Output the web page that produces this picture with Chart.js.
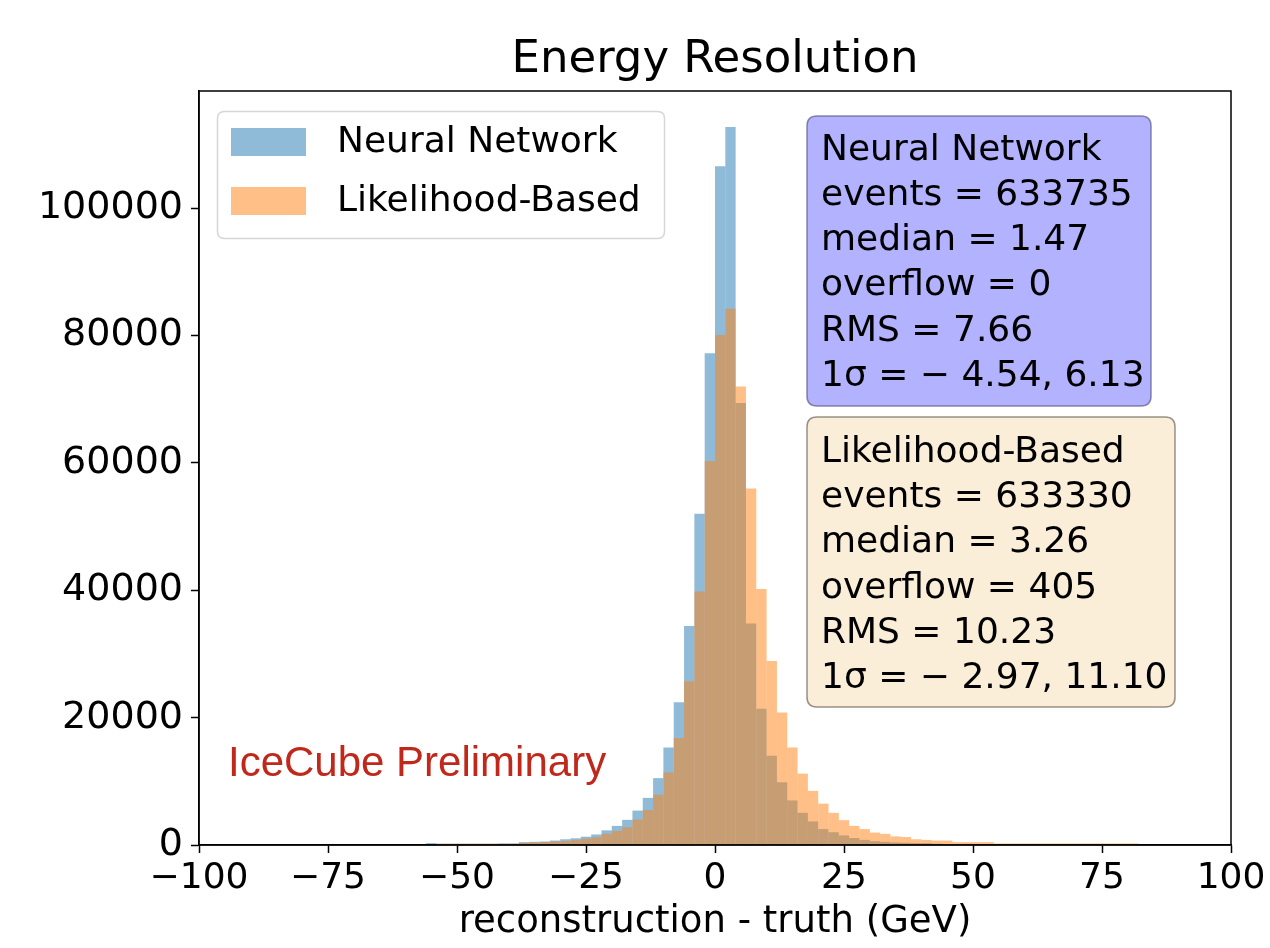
<!DOCTYPE html>
<html><head><meta charset="utf-8">
<script src="https://cdn.jsdelivr.net/npm/chart.js@4.4.1/dist/chart.umd.min.js"></script>
<style>html,body{margin:0;padding:0;background:#fff;}#wrap{width:1270px;height:948px;position:relative;}</style>
</head><body><div id="wrap"><canvas id="c"></canvas></div>
<script>
// Bin centres (GeV), bin width 2 GeV
const binCenters = [-55,-53,-51,-49,-47,-45,-43,-41,-39,-37,-35,-33,-31,-29,-27,-25,-23,-21,-19,-17,-15,-13,-11,-9,-7,-5,-3,-1,1,3,5,7,9,11,13,15,17,19,21,23,25,27,29,31,33,35,37,39,41,43,45,47,49,51,53,55,57,59,61,63,65,67,69,71,73,75,77,79,81];
const neuralNetwork = [300,200,200,200,200,200,200,250,250,450,500,550,700,900,1050,1300,1650,2300,3000,3950,5400,7400,10500,15300,22400,34400,52000,77200,106600,112750,69400,34800,21400,14000,9850,7000,5050,3700,2500,2000,1500,1100,800,600,500,400,350,300,300,200,150,150,100,0,0,0,0,0,0,0,0,0,0,0,0,0,0,0,0];
const likelihoodBased = [0,200,200,200,200,200,200,200,200,350,400,450,550,600,800,1000,1200,1750,2200,2800,4000,5500,7900,11400,16800,25700,39800,60300,80100,84200,72000,56000,40200,28900,20800,15300,11200,8500,6500,5050,3900,3000,2500,1950,1750,1350,1250,900,800,700,700,450,450,450,450,250,250,250,250,250,250,250,250,250,250,250,250,250,250];
const seriesLabels = ['Neural Network','Likelihood-Based'];
const xTickValues = [-100,-75,-50,-25,0,25,50,75,100];
const yTickValues = [0,20000,40000,60000,80000,100000];
const nnStats = ['Neural Network','events = 633735','median = 1.47','overflow = 0','RMS = 7.66','1σ = − 4.54, 6.13'];
const lbStats = ['Likelihood-Based','events = 633330','median = 3.26','overflow = 405','RMS = 10.23','1σ = − 2.97, 11.10'];
const watermark = 'IceCube Preliminary';

const FONT = 'DejaVu Sans';
Chart.defaults.font.family = FONT;
Chart.defaults.color = '#000';

const colors = ['rgba(31,119,180,0.5)','rgba(255,127,14,0.5)'];

function rrect(ctx,x,y,w,h,r){
  ctx.beginPath();
  ctx.moveTo(x+r,y);ctx.lineTo(x+w-r,y);ctx.quadraticCurveTo(x+w,y,x+w,y+r);
  ctx.lineTo(x+w,y+h-r);ctx.quadraticCurveTo(x+w,y+h,x+w-r,y+h);
  ctx.lineTo(x+r,y+h);ctx.quadraticCurveTo(x,y+h,x,y+h-r);
  ctx.lineTo(x,y+r);ctx.quadraticCurveTo(x,y,x+r,y);ctx.closePath();
}

const decor = {
  id:'decor',
  afterDraw(chart){
    const ctx = chart.ctx, a = chart.chartArea;
    ctx.save();
    ctx.strokeStyle='#000';ctx.lineWidth=1.5;
    ctx.strokeRect(a.left,a.top,a.right-a.left,a.bottom-a.top);
    // legend
    rrect(ctx,217.5,111.5,447,127,7);
    ctx.fillStyle='rgba(255,255,255,0.8)';ctx.fill();
    ctx.strokeStyle='#d6d6d6';ctx.lineWidth=1.5;ctx.stroke();
    ctx.font='36px "'+FONT+'"';ctx.textBaseline='middle';ctx.textAlign='left';
    chart.data.datasets.forEach((ds,i)=>{
      const cy = 142 + i*59;
      ctx.fillStyle='#fff';ctx.fillRect(231,cy-14,75,28);
      ctx.fillStyle=ds.backgroundColor;ctx.fillRect(231,cy-14,75,28);
      ctx.fillStyle='#000';ctx.fillText(ds.label,337,cy+1);
    });
    function box(x,y,w,h,fill,edge,lines,base){
      rrect(ctx,x,y,w,h,10);
      ctx.fillStyle=fill;ctx.fill();
      ctx.strokeStyle=edge;ctx.lineWidth=1.5;ctx.stroke();
      ctx.fillStyle='#000';ctx.font='36px "'+FONT+'"';ctx.textBaseline='alphabetic';ctx.textAlign='left';
      lines.forEach((t,i)=>ctx.fillText(t,x+14,base+i*45.3));
    }
    box(807,116,344,290,'rgb(178,178,255)','rgba(90,90,140,0.7)',nnStats,159.5);
    box(807,417,368,290,'rgb(250,238,217)','rgba(110,100,90,0.7)',lbStats,461.7);
    ctx.fillStyle='rgb(192,40,28)';ctx.font='42px "Liberation Sans"';ctx.textBaseline='alphabetic';
    ctx.fillText(watermark,228,776);
    ctx.restore();
  }
};

const fmt = v => v<0 ? '\u2212'+Math.abs(v) : String(v);

new Chart(document.getElementById('c'),{
  type:'bar',
  data:{datasets:[
    {label:seriesLabels[0],data:binCenters.map((x,i)=>({x,y:neuralNetwork[i]})),backgroundColor:colors[0],order:2},
    {label:seriesLabels[1],data:binCenters.map((x,i)=>({x,y:likelihoodBased[i]})),backgroundColor:colors[1],order:1}
  ]},
  options:{
    responsive:true,maintainAspectRatio:false,animation:false,
    layout:{padding:{left:0,right:39,top:0,bottom:0}},
    datasets:{bar:{barPercentage:1,categoryPercentage:1,grouped:false,borderWidth:0,inflateAmount:0}},
    plugins:{
      legend:{display:false},tooltip:{enabled:false},
      title:{display:true,text:'Energy Resolution',fullSize:false,color:'#000',font:{size:45,weight:'normal'},padding:{top:33,bottom:4}}
    },
    scales:{
      x:{type:'linear',min:-100,max:100,offset:false,
        grid:{drawOnChartArea:false,drawTicks:true,tickLength:8,tickColor:'#000',tickWidth:1.5,offset:false},
        border:{display:true,color:'#000',width:1.5},
        ticks:{font:{size:36},color:'#000',padding:4,autoSkip:false,maxRotation:0,callback:fmt},
        afterBuildTicks:s=>{s.ticks=xTickValues.map(v=>({value:v}));},
        afterFit:s=>{s.height=103;},
        title:{display:true,text:'reconstruction - truth (GeV)',color:'#000',font:{size:37},padding:{top:0,bottom:3}}
      },
      y:{type:'linear',min:0,max:118400,
        grid:{drawOnChartArea:false,drawTicks:true,tickLength:8,tickColor:'#000',tickWidth:1.5},
        border:{display:true,color:'#000',width:1.5},
        ticks:{font:{size:38},color:'#000',padding:8,callback:v=>String(v)},
        afterBuildTicks:s=>{s.ticks=yTickValues.map(v=>({value:v}));},
        afterFit:s=>{s.width=199;}
      }
    }
  },
  plugins:[decor]
});
</script></body></html>
